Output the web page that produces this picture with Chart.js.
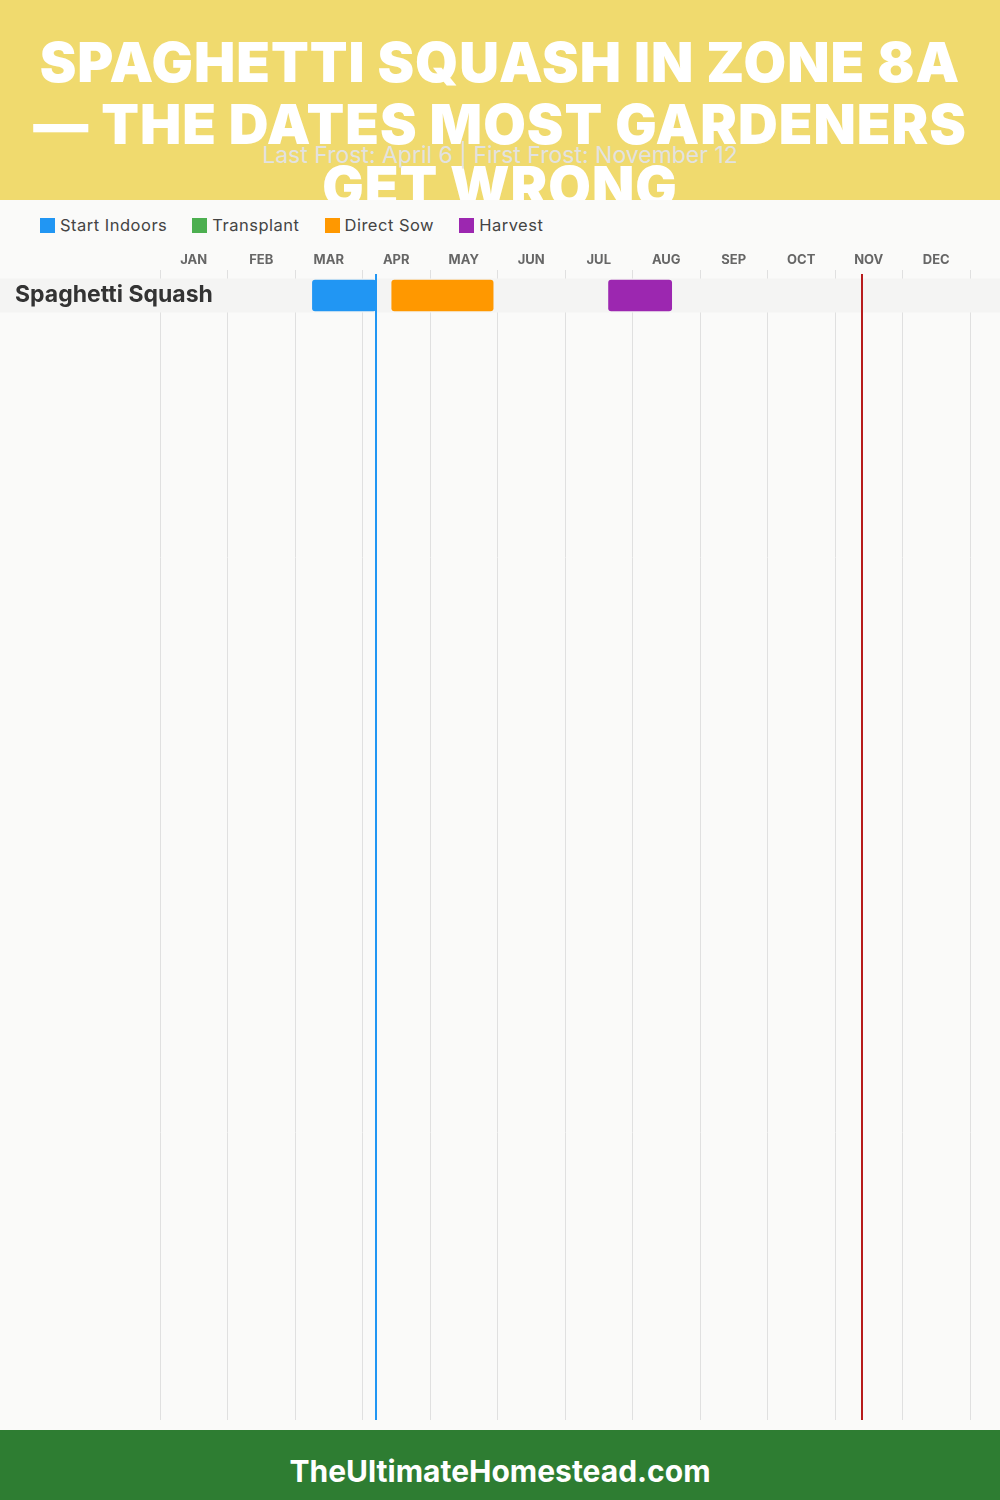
<!DOCTYPE html>
<html>
<head>
<meta charset="utf-8">
<script src="https://cdn.jsdelivr.net/npm/chart.js@4"></script>
<style>
  body { margin:0; width:1000px; height:1500px; background:#fafaf9; font-family:Inter, "Open Sans", sans-serif; position:relative; overflow:hidden; }
  #header { position:absolute; left:0; top:0; width:1000px; height:200px; background:#f0da6e; overflow:hidden; }
  #title { position:absolute; left:0; top:31px; width:1000px; text-align:center; color:#fff; font-weight:900; font-size:55px; line-height:62px; letter-spacing:1px; }
  #subtitle { position:absolute; left:0; top:141px; width:1000px; text-align:center; color:#e2e2e0; font-size:23px; line-height:28px; }
  #legend { position:absolute; left:40px; top:215px; height:20px; display:flex; align-items:center; font-size:16.5px; letter-spacing:0.5px; color:#444; }
  #legend .item { display:flex; align-items:center; margin-right:25px; }
  #legend .box { width:15px; height:15px; margin-right:5px; }
  #wrap { position:absolute; left:0; top:240px; width:1000px; height:1190px; }
  #footer { position:absolute; left:0; top:1430px; width:1000px; height:70px; background:#2e7d32; color:#fff; font-weight:700; font-size:30px; line-height:82px; text-align:center; }
</style>
</head>
<body>
<div id="header">
  <div id="title">SPAGHETTI SQUASH IN ZONE 8A<br>— THE DATES MOST GARDENERS<br>GET WRONG</div>
  <div id="subtitle">Last Frost: April 6 | First Frost: November 12</div>
</div>
<div id="legend"></div>
<div id="wrap"><canvas id="myChart"></canvas></div>
<div id="footer">TheUltimateHomestead.com</div>
<script>
var months = ["JAN","FEB","MAR","APR","MAY","JUN","JUL","AUG","SEP","OCT","NOV","DEC"];
var crops = ["Spaghetti Squash"];
var seriesNames = ["Start Indoors","Transplant","Direct Sow","Harvest"];
var seriesColors = ["#2196f3","#4caf50","#ff9800","#9c27b0"];
// one entry per crop: [from, to] as "MM-DD"
var startIndoors = [["03-08","04-06"]];
var transplant   = [null];
var directSow    = [["04-13","05-29"]];
var harvest      = [["07-20","08-18"]];
var lastFrost = "04-06";
var firstFrost = "11-12";

var daysIn = [31,28,31,30,31,30,31,31,30,31,30,31];
function pos(s){
  var m = parseInt(s.slice(0,2),10)-1, d = parseInt(s.slice(3),10);
  return m + d/daysIn[m];
}

// html legend
var lg = document.getElementById("legend");
seriesNames.forEach(function(n,i){
  lg.innerHTML += '<div class="item"><div class="box" style="background:'+seriesColors[i]+'"></div>'+n+'</div>';
});

var series = [startIndoors, transplant, directSow, harvest];
var datasets = series.map(function(arr,i){
  return {
    label: seriesNames[i],
    backgroundColor: seriesColors[i],
    borderWidth: 0,
    borderRadius: 3,
    borderSkipped: false,
    barThickness: 31,
    grouped: false,
    data: arr.map(function(r,j){ return r ? {x:[pos(r[0]),pos(r[1])], y:j} : {x:null, y:j}; })
  };
});

var rowBand = {
  id: "rowBand",
  beforeDatasetsDraw: function(chart){
    var ctx = chart.ctx, y = chart.scales.y;
    ctx.save();
    ctx.fillStyle = "#f4f4f3";
    crops.forEach(function(c,i){
      var py = y.getPixelForValue(i);
      ctx.fillRect(0, py-17, chart.width, 34);
    });
    ctx.restore();
  }
};

var frostLines = {
  id: "frostLines",
  afterDatasetsDraw: function(chart){
    var ctx = chart.ctx, x = chart.scales.x, a = chart.chartArea;
    [[lastFrost,"#2196f3"],[firstFrost,"#b71c1c"]].forEach(function(f){
      var px = x.getPixelForValue(pos(f[0]));
      ctx.save();
      ctx.strokeStyle = f[1];
      ctx.lineWidth = 2;
      ctx.beginPath();
      ctx.moveTo(px, a.top+4);
      ctx.lineTo(px, a.bottom);
      ctx.stroke();
      ctx.restore();
    });
  }
};

new Chart("myChart", {
  type: "bar",
  data: { datasets: datasets },
  plugins: [rowBand, frostLines],
  options: {
    indexAxis: "y",
    responsive: true,
    maintainAspectRatio: false,
    animation: false,
    layout: { padding: { left:15, right:30, top:0, bottom:10 } },
    plugins: { legend: { display:false }, tooltip: { enabled:false } },
    scales: {
      x: {
        type: "linear",
        position: "top",
        min: 0, max: 12,
        afterBuildTicks: function(s){ s.ticks = months.map(function(m,i){ return {value:i+0.5}; }); },
        afterFit: function(s){ s.height = 30; },
        ticks: {
          padding: 2,
          color: "#666",
          font: { family:"Inter", size:13, weight:"bold" },
          callback: function(v, i){ return months[i]; }
        },
        grid: { offset:true, color:"#e0e0e0", lineWidth:1, drawTicks:false },
        border: { display:false }
      },
      y: {
        type: "linear",
        reverse: true,
        offset: false,
        min: -0.75, max: 33.1,
        afterBuildTicks: function(s){ s.ticks = crops.map(function(c,i){ return {value:i}; }); },
        afterFit: function(s){ s.width = 145; },
        ticks: {
          z: 1,
          mirror: true,
          padding: -145,
          color: "#333",
          font: { family:"Inter", size:23, weight:"bold" },
          callback: function(v){ return crops[v]; }
        },
        grid: { display:false },
        border: { display:false }
      }
    }
  }
});
</script>
</body>
</html>
